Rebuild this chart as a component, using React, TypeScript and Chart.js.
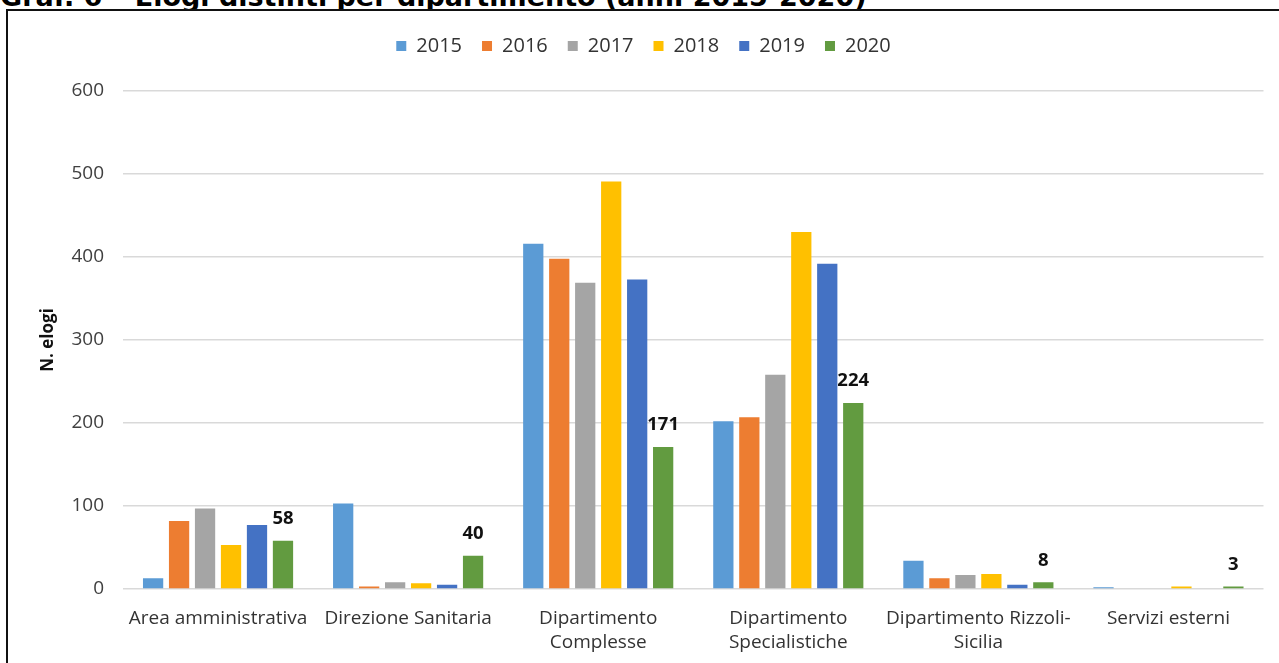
import React, { useEffect, useRef } from "react";
import { Chart, registerables } from "chart.js";

Chart.register(...registerables);

const categories: (string | string[])[] = [
  "Area amministrativa",
  "Direzione Sanitaria",
  ["Dipartimento", "Complesse"],
  ["Dipartimento", "Specialistiche"],
  ["Dipartimento Rizzoli-", "Sicilia"],
  "Servizi esterni",
];

const years = ["2015", "2016", "2017", "2018", "2019", "2020"];

const values2015 = [13, 103, 416, 202, 34, 2];
const values2016 = [82, 3, 398, 207, 13, 0];
const values2017 = [97, 8, 369, 258, 17, 0];
const values2018 = [53, 7, 491, 430, 18, 3];
const values2019 = [77, 5, 373, 392, 5, 0];
const values2020 = [58, 40, 171, 224, 8, 3];

const yTicks = [0, 100, 200, 300, 400, 500, 600];

const colors = ["#5B9BD5", "#ED7D31", "#A5A5A5", "#FFC000", "#4472C4", "#629B40"];

const FONT = "'Open Sans', sans-serif";

const legendMargin = {
  id: "legendMargin",
  beforeInit(chart: any) {
    const fit = chart.legend.fit;
    chart.legend.fit = function () {
      fit.bind(chart.legend)();
      this.height += 25;
    };
  },
};

const lastLabels = {
  id: "lastLabels",
  afterDatasetsDraw(chart: any) {
    const ctx = chart.ctx;
    const idx = chart.data.datasets.length - 1;
    const meta = chart.getDatasetMeta(idx);
    const data = chart.data.datasets[idx].data;
    ctx.save();
    ctx.font = `bold 18.5px ${FONT}`;
    ctx.fillStyle = "#111111";
    ctx.textAlign = "center";
    ctx.textBaseline = "middle";
    meta.data.forEach((el: any, i: number) => {
      ctx.fillText(String(data[i]), el.x, el.y - 22);
    });
    ctx.restore();
  },
};

export default function App() {
  const ref = useRef<HTMLCanvasElement | null>(null);

  useEffect(() => {
    if (!ref.current) return;
    const series = [values2015, values2016, values2017, values2018, values2019, values2020];
    const chart = new Chart(ref.current, {
      type: "bar",
      data: {
        labels: categories as any,
        datasets: series.map((s, i) => ({
          label: years[i],
          data: s,
          backgroundColor: colors[i],
          borderWidth: 0,
          categoryPercentage: 0.82,
          barPercentage: 0.78,
        })),
      },
      options: {
        animation: false,
        responsive: false,
        maintainAspectRatio: false,
        layout: { padding: { left: 15.5, right: 15.5, top: 5, bottom: 0 } },
        plugins: {
          tooltip: { enabled: false },
          legend: {
            position: "top",
            labels: {
              boxWidth: 10,
              boxHeight: 10,
              padding: 20,
              color: "#333333",
              font: { family: FONT, size: 20 },
            },
          },
        },
        scales: {
          x: {
            grid: { display: false },
            border: { display: false },
            ticks: {
              color: "#333333",
              font: { family: FONT, size: 19, lineHeight: 1.3 },
              maxRotation: 0,
              minRotation: 0,
              autoSkip: false,
              padding: 9,
            },
            afterFit(scale: any) {
              scale.height = 74;
            },
          },
          y: {
            min: 0,
            max: 600,
            afterBuildTicks(scale: any) {
              scale.ticks = yTicks.map((v) => ({ value: v }));
            },
            grid: { color: "#D9D9D9", lineWidth: 1.5, drawTicks: false },
            border: { display: false },
            ticks: {
              color: "#404040",
              font: { family: FONT, size: 19 },
              padding: 19,
            },
            title: {
              display: true,
              text: "N. elogi",
              color: "#111111",
              font: { family: FONT, size: 17, weight: "bold" },
              padding: { top: 14, bottom: 0 },
            },
            afterFit(scale: any) {
              scale.width = 99.5;
            },
          },
        },
      },
      plugins: [legendMargin, lastLabels],
    } as any);
    return () => chart.destroy();
  }, []);

  return (
    <div
      style={{
        position: "fixed",
        left: 0,
        top: 0,
        width: 1279,
        height: 663,
        overflow: "hidden",
        background: "#fff",
      }}
    >
      <div
        style={{
          position: "absolute",
          left: 0,
          top: -17,
          fontFamily: "'DejaVu Sans', sans-serif",
          fontWeight: "bold",
          fontSize: 27,
          lineHeight: "27px",
          whiteSpace: "nowrap",
          color: "#000",
        }}
      >
        Graf. 6 – Elogi distinti per dipartimento (anni 2015-2020)
      </div>
      <div
        style={{
          position: "absolute",
          left: 6,
          top: 9,
          width: 1320,
          height: 720,
          border: "2px solid #111",
          background: "#fff",
        }}
      />
      <canvas
        ref={ref}
        width={1271}
        height={652}
        style={{ position: "absolute", left: 8, top: 11, width: 1271, height: 652 }}
      />
    </div>
  );
}
